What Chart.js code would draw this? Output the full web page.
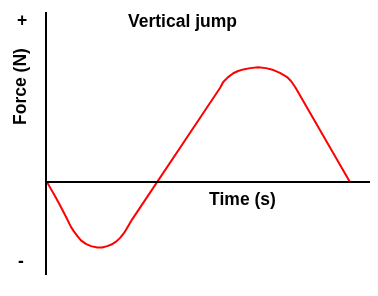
<!DOCTYPE html>
<html>
<head>
<meta charset="utf-8">
<script src="https://cdn.jsdelivr.net/npm/chart.js@4"></script>
<style>
  html, body { margin: 0; padding: 0; background: #fff; }
  canvas { display: block; }
</style>
</head>
<body>
<canvas id="jumpChart" width="378" height="296"></canvas>
<script>
// time (arbitrary units) and force
const timeValues = [0.03, 0.12, 0.25, 0.37, 0.46, 0.62, 0.77, 0.86, 0.97, 1.08, 1.23, 1.39,
    1.58, 1.73, 1.89, 2.02, 2.15, 2.28, 2.41, 2.53, 2.65,
    5.37, 5.47, 5.62, 5.78, 5.93, 6.09, 6.30, 6.55, 6.79, 7.02, 7.22, 7.43, 7.56, 7.69,
    9.38];
const forceValues = [0, -0.16, -0.39, -0.61, -0.78, -1.09, -1.40, -1.54, -1.69, -1.82, -1.93, -2.00,
    -2.04, -2.04, -2.00, -1.95, -1.87, -1.75, -1.59, -1.39, -1.18,
    2.93, 3.12, 3.27, 3.39, 3.46, 3.51, 3.55, 3.58, 3.55, 3.49, 3.40, 3.28, 3.15, 2.96,
    0];

const chartTitle = 'Vertical jump';
const xTitle = 'Time (s)';
const yTitle = 'Force (N)';
const yTickLabels = ['+', '-'];

const FONT = '"Liberation Sans", Arial, sans-serif';

const axesAndText = {
    id: 'axesAndText',
    afterDatasetsDraw(chart) {
        const ctx = chart.ctx;
        const area = chart.chartArea;
        const x = chart.scales.x;
        const y = chart.scales.y;
        const x0 = x.getPixelForValue(0);
        const y0 = y.getPixelForValue(0);

        ctx.save();
        ctx.strokeStyle = '#000';
        ctx.lineWidth = 2;
        ctx.beginPath();
        ctx.moveTo(x0, area.top);
        ctx.lineTo(x0, area.bottom);
        ctx.moveTo(x0, y0);
        ctx.lineTo(area.right, y0);
        ctx.stroke();

        ctx.fillStyle = '#000';
        ctx.font = 'bold 17.5px ' + FONT;
        ctx.textAlign = 'center';
        ctx.textBaseline = 'alphabetic';
        ctx.fillText(chartTitle, 182.5, 27);
        ctx.fillText(xTitle, 242.5, y0 + 23);

        ctx.textBaseline = 'middle';
        ctx.fillText(yTickLabels[0], 22, 21);
        ctx.fillText(yTickLabels[1], 21, 262);

        ctx.translate(26, 86.5);
        ctx.rotate(-Math.PI / 2);
        ctx.textBaseline = 'alphabetic';
        ctx.fillText(yTitle, 0, 0);
        ctx.restore();
    }
};

const ctx = document.getElementById('jumpChart').getContext('2d');
new Chart(ctx, {
    type: 'line',
    data: {
        datasets: [{
            data: timeValues.map((t, i) => ({ x: t, y: forceValues[i] })),
            borderColor: '#ff0000',
            borderWidth: 2,
            pointRadius: 0,
            tension: 0,
            borderJoinStyle: 'round',
            fill: false
        }]
    },
    options: {
        responsive: false,
        animation: false,
        layout: { padding: { left: 46, right: 8, top: 12, bottom: 21 } },
        plugins: {
            legend: { display: false },
            tooltip: { enabled: false }
        },
        scales: {
            x: { type: 'linear', min: 0, max: 10, display: false },
            y: { type: 'linear', min: -2.9, max: 5.3, display: false }
        }
    },
    plugins: [axesAndText]
});
</script>
</body>
</html>
